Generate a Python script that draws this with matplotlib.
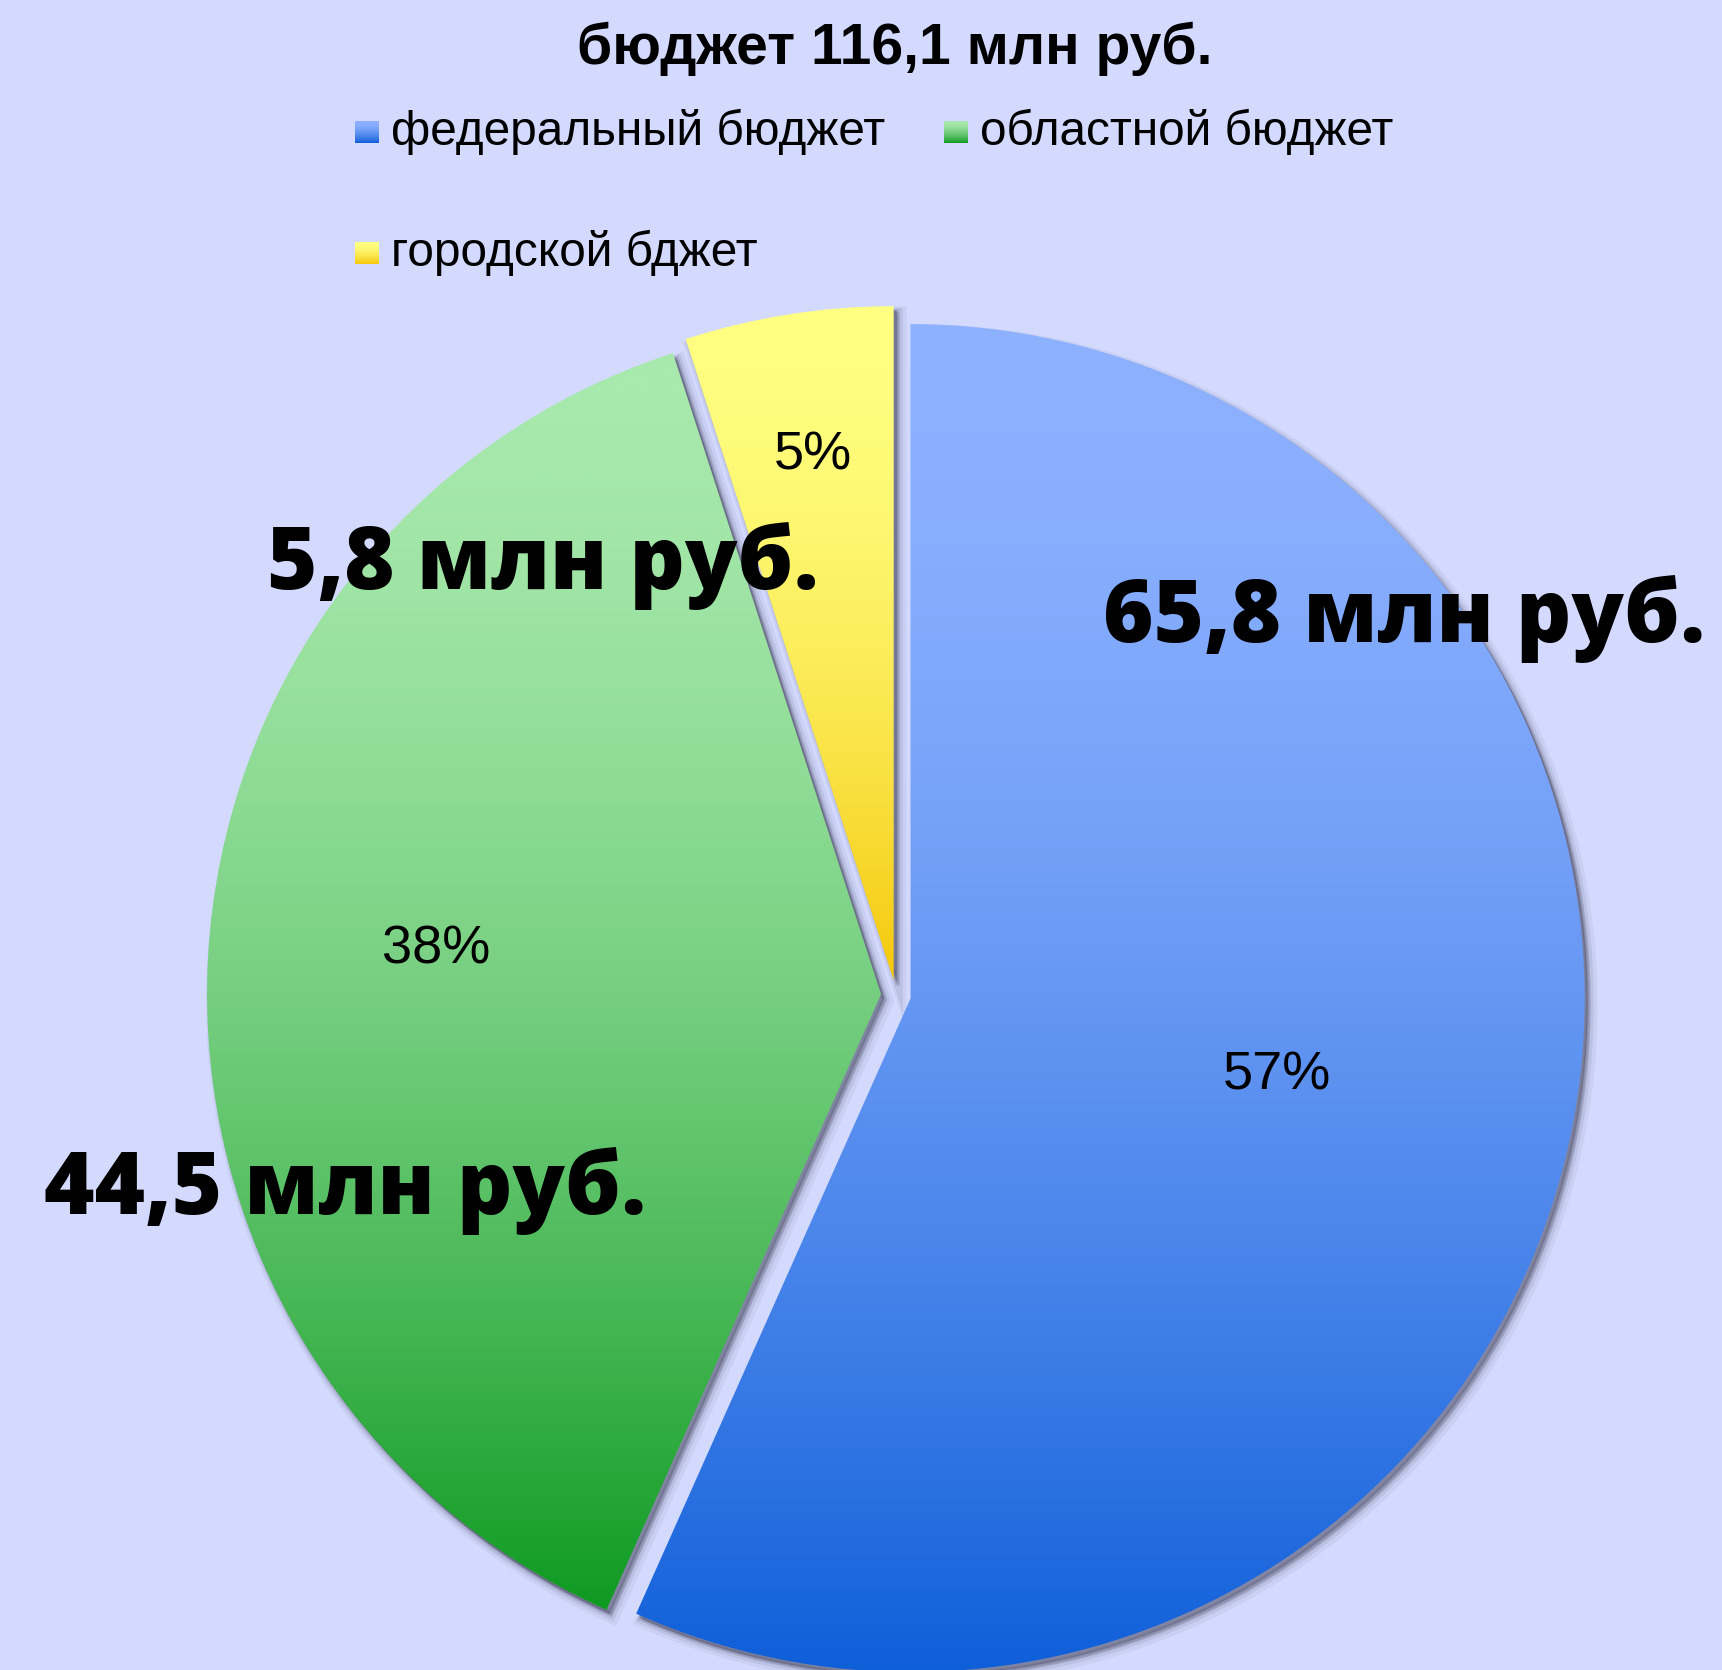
import numpy as np
import matplotlib
matplotlib.use('Agg')
import matplotlib.pyplot as plt
from matplotlib.colors import LinearSegmentedColormap
from matplotlib.patches import PathPatch
from matplotlib.transforms import Affine2D

categories = ['федеральный бюджет', 'областной бюджет', 'городской бджет']
values = [65.8, 44.5, 5.8]
pct_labels = ['57%', '38%', '5%']
amount_labels = ['65,8 млн руб.', '44,5 млн руб.', '5,8 млн руб.']
title = 'бюджет 116,1 млн руб.'

W, H = 1722, 1670
BG = '#D3DAFE'
top_colors = ['#8DB1FF', '#A8E9AD', '#FFFF82']
bot_colors = ['#0F5FD9', '#0F9A22', '#F5C90C']

fig = plt.figure(figsize=(W / 100, H / 100), dpi=100, facecolor=BG)
ax = fig.add_axes([0, 0, 1, 1])
ax.set_facecolor(BG)

cx, cy = 896, H - 995
R = 674
wedges, _ = ax.pie(values, radius=R, center=(cx, cy), startangle=90,
                   counterclock=False, explode=[15] * 3)

s = np.linspace(0, 1, 512)
grad = ((1 - s) ** 1.65).reshape(-1, 1)   # 0 = top colour, 1 = bottom colour
for i, w in enumerate(wedges):
    path = w.get_path()
    ext = path.get_extents()
    # soft shadow
    for off, lw, a in [((6, -7), 10, 0.06), ((5, -6), 6, 0.09), ((4, -5), 3, 0.14), ((3, -4), 0, 0.3)]:
        sp = Affine2D().translate(*off).transform_path(path)
        ax.add_patch(PathPatch(sp, facecolor='#303048', edgecolor='#303048',
                               lw=lw, alpha=a, zorder=1))
    cmap = LinearSegmentedColormap.from_list('g%d' % i, [top_colors[i], bot_colors[i]])
    im = ax.imshow(grad, extent=(ext.x0, ext.x1, ext.y0, ext.y1), origin='lower',
                   cmap=cmap, vmin=0, vmax=1, aspect='auto', zorder=2,
                   interpolation='bicubic')
    im.set_clip_path(w)
    w.set_facecolor('none')
    w.set_edgecolor('none')
    w.set_zorder(3)

# percentage labels
pct_pos = [(1277, 1076), (436, 950), (813, 456)]
for lab, (x, y) in zip(pct_labels, pct_pos):
    ax.text(x, H - y, lab, ha='center', va='center', fontsize=39,
            family='Liberation Sans', color='black', zorder=5)

# amount labels
amount_pos = [(1404, 619), (345, 1191), (543, 566)]
for lab, (x, y) in zip(amount_labels, amount_pos):
    ax.text(x, H - y, lab, ha='center', va='center', fontsize=62,
            family='Open Sans', fontweight=800, color='black', zorder=6)

# title
ax.text(895, H - 49, title, ha='center', va='center', fontsize=41,
        family='Liberation Sans', fontweight='bold', color='black', zorder=6)

# legend
leg_pos = [(355, 132), (944, 132), (355, 253)]
for i, (x, y) in enumerate(leg_pos):
    cmap = LinearSegmentedColormap.from_list('l%d' % i, [top_colors[i], bot_colors[i]])
    ax.imshow(grad, extent=(x, x + 24, H - y - 11, H - y + 11), origin='lower',
              cmap=cmap, vmin=0, vmax=1, aspect='auto', zorder=6)
    ax.text(x + 36, H - y, categories[i], ha='left', va='center', fontsize=34.4,
            family='Liberation Sans', color='black', zorder=6)

ax.set_xlim(0, W)
ax.set_ylim(0, H)
ax.set_aspect('auto')
ax.axis('off')
fig.savefig('out.png', dpi=100, facecolor=BG)
